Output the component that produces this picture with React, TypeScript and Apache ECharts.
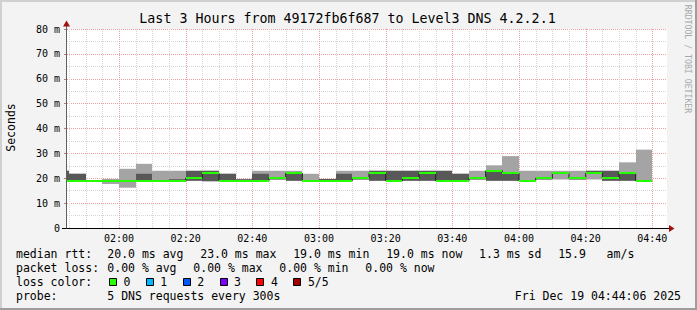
import React, { useEffect, useRef } from "react";
import * as echarts from "echarts";

// ---- data ----
const binStarts = ["01:40","01:45","01:50","01:55","02:00","02:05","02:10","02:15","02:20","02:25","02:30","02:35","02:40","02:45","02:50","02:55","03:00","03:05","03:10","03:15","03:20","03:25","03:30","03:35","03:40","03:45","03:50","03:55","04:00","04:05","04:10","04:15","04:20","04:25","04:30","04:35"];
const pingMin = [19,19,19,17.7,16.2, 19,19,19,19,18.8, 19,19,19,19.5,19, 19,19,19,19.5,19, 19,19,19,19,19, 19.5,19,19,19,19.5, 19.5,19.5,19.5,19,19, 19];
const pingLow = [19,19,19,19,19, 19,19,19,19,18.8, 19,19,19,19.5,19, 19,19,19,19.5,19, 19,19,19,19,19, 19.5,19,19,19,19.5, 22,19.5,22,19,19, 19];
const pingMedian = [19,19,19,19,19, 19,19,19,20,22, 19,19,19,20,22, 19,19,19,20,22, 19,20,22,19,19, 20,23,22,19,20, 22,20,22,20,22, 19];
const pingHigh = [23,21.8,19,19.3,19, 21.8,19,19.6,23,23, 21.8,19.6,21.8,20,22, 19.2,19.7,21.8,20,23, 23,23,23,23,21.8, 20,23.3,22,19.2,20, 22,20,23,23,22, 19.3];
const pingMax = [23,21.8,19,19.7,23.8, 25.8,23,23,23,23, 21.8,19.6,23,23,23, 21.8,19.7,23,23,23, 23,23,23,23,21.8, 23,25.2,28.9,23,23, 23,23,23,23,26.4, 31.5];
const binMinutes = 5;

const timeTicks = ["02:00","02:20","02:40","03:00","03:20","03:40","04:00","04:20","04:40"];
const yMax = 80;
const yStep = 10;

const title = "Last 3 Hours from 49172fb6f687 to Level3 DNS 4.2.2.1";
const yName = "Seconds";
const sideNote = "RRDTOOL / TOBI OETIKER";
const rttLabel = "median rtt:";
const rttStats = ["20.0 ms avg", "23.0 ms max", "19.0 ms min", "19.0 ms now", "1.3 ms sd", "15.9   am/s"];
const lossLabel = "packet loss:";
const lossStats = ["0.00 % avg", "0.00 % max", "0.00 % min", "0.00 % now"];
const colorLabel = "loss color:";
const lossNames = ["0", "1", "2", "3", "4", "5/5"];
const lossColors = ["#26ff00", "#00b8ff", "#0059ff", "#7e00ff", "#ff0000", "#a10000"];
const probeLabel = "probe:";
const probeText = "5 DNS requests every 300s";
const stamp = "Fri Dec 19 04:44:06 2025";

const toMin = (t: string) => {
  const [h, m] = t.split(":").map(Number);
  return h * 60 + m;
};
const fmtMin = (v: number) => {
  const h = Math.floor(v / 60);
  const m = Math.round(v - h * 60);
  return String(h).padStart(2, "0") + ":" + String(m).padStart(2, "0");
};

const MONO = '"DejaVu Sans Mono", monospace';

export default function App() {
  const ref = useRef<HTMLDivElement>(null);
  useEffect(() => {
    if (!ref.current) return;
    const chart = echarts.init(ref.current, undefined, { renderer: "svg" });

    const xMin = 104.4;
    const xMax = 284.4;

    const bins = binStarts.map((s, i) => {
      const st = toMin(s);
      return [st, st + binMinutes, pingMin[i], pingLow[i], pingMedian[i], pingHigh[i], pingMax[i]];
    });

    const gridLines: number[][] = [];
    for (let m = 105; m <= 280; m += 5) gridLines.push([m, 0]);

    const medianLine: number[][] = [];
    bins.forEach((b) => {
      medianLine.push([b[0], b[4]]);
      medianLine.push([b[1], b[4]]);
    });

    // legend layout
    const charW = 6.95;
    const col0 = 16;
    const col1 = 107.3;
    const gap = 16.5;
    const fontL = "11.5px " + MONO;
    const rowY = [254.3, 268.1, 282, 295.8];
    const texts: any[] = [];
    const addText = (t: string, x: number, y: number, extra: any = {}) =>
      texts.push({
        type: "text",
        x,
        y,
        z: 100,
        silent: true,
        style: { text: t, font: fontL, fill: "#000", textVerticalAlign: "middle", ...extra },
      });
    addText(rttLabel, col0, rowY[0]);
    let cx = col1;
    rttStats.forEach((s) => {
      addText(s, cx, rowY[0]);
      cx += s.length * charW + gap;
    });
    addText(lossLabel, col0, rowY[1]);
    cx = col1;
    lossStats.forEach((s) => {
      addText(s, cx, rowY[1]);
      cx += s.length * charW + gap;
    });
    addText(colorLabel, col0, rowY[2]);
    lossNames.forEach((n, i) => {
      const bx = col1 + 1.5 + i * 36.9;
      texts.push({
        type: "rect",
        z: 100,
        silent: true,
        shape: { x: Math.round(bx) + 0.5, y: rowY[2] - 3.5, width: 7, height: 7 },
        style: { fill: lossColors[i], stroke: "#000", lineWidth: 1 },
      });
      addText(n, bx + 14.6, rowY[2]);
    });
    addText(probeLabel, col0, rowY[3]);
    addText(probeText, col1, rowY[3]);
    addText(stamp, 681, rowY[3], { textAlign: "right" });

    const option: any = {
      animation: false,
      backgroundColor: "#f3f3f3",
      grid: {
        left: 67,
        top: 29,
        width: 600,
        height: 199,
        show: true,
        backgroundColor: "#ffffff",
        borderWidth: 0,
      },
      xAxis: {
        type: "value",
        min: xMin,
        max: xMax,
        axisLine: { show: false },
        axisTick: { show: false },
        splitLine: { show: false },
        axisLabel: {
          customValues: timeTicks.map(toMin),
          formatter: (v: number) => fmtMin(v),
          fontFamily: MONO,
          fontSize: 10,
          color: "#000",
          margin: 5,
        },
      },
      yAxis: {
        type: "value",
        min: 0,
        max: yMax,
        interval: yStep,
        axisLine: { show: false },
        axisTick: { show: true, length: 3, lineStyle: { color: "#b08080" } },
        axisLabel: {
          formatter: (v: number) => (v === 0 ? "0" : v + " m"),
          fontFamily: MONO,
          fontSize: 10,
          color: "#000",
          margin: 7,
        },
        splitLine: { show: true, lineStyle: { color: "#f0a0a0", width: 1, type: [1, 1] } },
        minorTick: { show: false, splitNumber: 2 },
        minorSplitLine: { show: true, lineStyle: { color: "#d6d6d6", width: 1, type: [1, 1] } },
      },
      series: [
        {
          type: "custom",
          name: "grid",
          silent: true,
          z: 1,
          data: gridLines,
          encode: { x: 0, y: 1 },
          renderItem: (params: any, api: any) => {
            const v = api.value(0);
            const t = api.coord([v, yMax]);
            const b = api.coord([v, 0]);
            const x = Math.round(t[0]) + 0.5;
            const major = v % 20 === 0;
            return {
              type: "line",
              shape: { x1: x, y1: t[1], x2: x, y2: b[1] },
              style: { stroke: major ? "#f0a0a0" : "#d6d6d6", lineWidth: 1, lineDash: [1, 1] },
            };
          },
        },
        {
          type: "custom",
          name: "smoke",
          silent: true,
          z: 2,
          clip: true,
          data: bins,
          encode: { x: [0, 1], y: [2, 3, 4, 5, 6] },
          renderItem: (params: any, api: any) => {
            const left = params.coordSys.x;
            const s = api.value(0), e = api.value(1);
            const p1 = api.value(2), p2 = api.value(3), p4 = api.value(5), p5 = api.value(6);
            let x0 = Math.round(api.coord([s, 0])[0]);
            const x1 = Math.round(api.coord([e, 0])[0]);
            x0 = Math.max(x0, Math.round(left));
            const y1 = api.coord([s, p1])[1];
            const y2 = api.coord([s, p2])[1];
            const y4 = api.coord([s, p4])[1];
            const y5 = api.coord([s, p5])[1];
            return {
              type: "group",
              children: [
                { type: "rect", shape: { x: x0, y: y5, width: x1 - x0, height: y1 - y5 }, style: { fill: "#a4a4a4" } },
                { type: "rect", shape: { x: x0, y: y4, width: x1 - x0, height: y2 - y4 }, style: { fill: "#585858" } },
              ],
            };
          },
        },
        {
          type: "line",
          name: "median-edge",
          silent: true,
          z: 3,
          data: medianLine,
          symbol: "none",
          lineStyle: { color: "#202020", width: 1 },
        },
        {
          type: "custom",
          name: "median",
          silent: true,
          z: 4,
          clip: true,
          data: bins,
          encode: { x: [0, 1], y: 4 },
          renderItem: (params: any, api: any) => {
            const left = params.coordSys.x;
            const s = api.value(0), e = api.value(1), m = api.value(4);
            let x0 = Math.round(api.coord([s, m])[0]);
            const x1 = Math.round(api.coord([e, m])[0]);
            x0 = Math.max(x0, Math.round(left));
            const y = Math.round(api.coord([s, m])[1]);
            return {
              type: "rect",
              shape: { x: x0, y: y - 1, width: x1 - x0, height: 2 },
              style: { fill: lossColors[0] },
            };
          },
        },
      ],
      graphic: [
        // frame
        { type: "rect", z: 90, silent: true, shape: { x: 0, y: 0, width: 697, height: 2 }, style: { fill: "#d0d0d0" } },
        { type: "rect", z: 90, silent: true, shape: { x: 0, y: 0, width: 2, height: 310 }, style: { fill: "#d0d0d0" } },
        { type: "rect", z: 91, silent: true, shape: { x: 695, y: 0, width: 2, height: 310 }, style: { fill: "#9e9e9e" } },
        { type: "rect", z: 91, silent: true, shape: { x: 0, y: 308, width: 697, height: 2 }, style: { fill: "#9e9e9e" } },
        // axes
        { type: "line", z: 95, silent: true, shape: { x1: 62, y1: 228.5, x2: 670, y2: 228.5 }, style: { stroke: "#000", lineWidth: 1 } },
        { type: "polygon", z: 96, silent: true, shape: { points: [[669, 225], [674.5, 228.5], [669, 232]] }, style: { fill: "#a01010" } },
        { type: "line", z: 95, silent: true, shape: { x1: 66.5, y1: 228.5, x2: 66.5, y2: 25 }, style: { stroke: "#606060", lineWidth: 1 } },
        { type: "polygon", z: 96, silent: true, shape: { points: [[63, 26.5], [66.5, 20.5], [70, 26.5]] }, style: { fill: "#a01010" } },
        // title and side texts
        {
          type: "text", z: 100, silent: true, x: 347.5, y: 18.5,
          style: { text: title, font: "13.3px " + MONO, fill: "#000", textAlign: "center", textVerticalAlign: "middle" },
        },
        {
          type: "text", z: 100, silent: true, x: 11, y: 127.5, rotation: Math.PI / 2,
          style: { text: yName, font: "11.5px " + MONO, fill: "#000", textAlign: "center", textVerticalAlign: "middle" },
        },
        {
          type: "text", z: 100, silent: true, x: 688, y: 59, rotation: -Math.PI / 2,
          style: { text: sideNote, font: "8.2px " + MONO, fill: "#a8a8a8", textAlign: "center", textVerticalAlign: "middle" },
        },
        ...texts,
      ],
    };
    chart.setOption(option);
    return () => chart.dispose();
  }, []);

  return (
    <div
      ref={ref}
      style={{ position: "fixed", left: 0, top: 0, width: 697, height: 310 }}
    />
  );
}
